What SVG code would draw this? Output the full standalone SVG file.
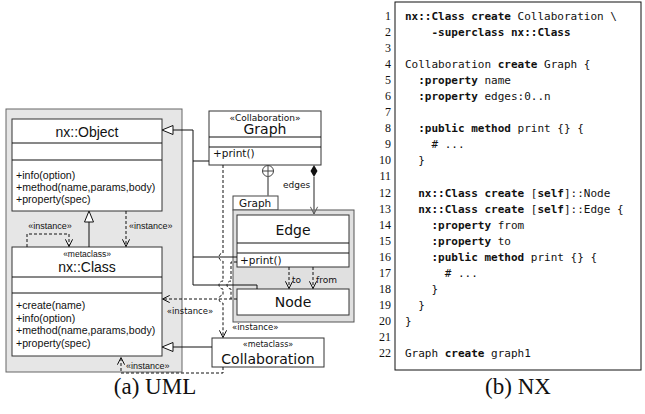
<svg xmlns="http://www.w3.org/2000/svg" width="645" height="414" viewBox="0 0 645 414">
<style>
.box{fill:#fff;stroke:#333;stroke-width:1}
.h{font-family:"Liberation Sans",Arial,sans-serif;fill:#111}
.d{font-family:"DejaVu Sans",sans-serif;fill:#111}
.ln{stroke:#111;stroke-width:1;fill:none}
.dash{stroke:#111;stroke-width:1;fill:none;stroke-dasharray:3 2}
.gray{stroke:#777;stroke-width:1.6;fill:none}
.tri{fill:#fff;stroke:#111;stroke-width:1}
.code{font-family:"DejaVu Sans Mono",monospace;font-size:11px;fill:#111}
.b{font-weight:bold}
.num{font-family:"Liberation Serif",serif;font-size:12px;text-anchor:end;fill:#111}
.cap{font-family:"Liberation Serif",serif;font-size:23px;text-anchor:middle;fill:#111}
.mid{text-anchor:middle}
</style>
<defs>
<marker id="open" viewBox="0 0 10 10" refX="9" refY="5" markerWidth="9" markerHeight="9" markerUnits="userSpaceOnUse" orient="auto"><path d="M1,1 L9,5 L1,9" fill="none" stroke="#111" stroke-width="1.1"/></marker>
<marker id="openg" viewBox="0 0 10 10" refX="9" refY="5" markerWidth="9" markerHeight="9" markerUnits="userSpaceOnUse" orient="auto"><path d="M1,1 L9,5 L1,9" fill="none" stroke="#555" stroke-width="1.1"/></marker>
</defs>

<!-- left panel background -->
<rect x="6" y="109" width="176" height="263" fill="#e6e6e6" stroke="#666" stroke-width="1"/>

<!-- Graph package -->
<g id="graph-package">
<rect x="233" y="196" width="45" height="14" fill="#fff" stroke="#444"/>
<text class="d" x="239" y="207" font-size="10.5">Graph</text>
<rect x="233" y="210" width="121" height="112" fill="#e0e0e0" stroke="#555"/>
</g>

<g id="nx-object">
<rect class="box" x="12" y="119" width="150" height="92"/>
<line class="ln" x1="12" y1="143" x2="162" y2="143" stroke="#333"/>
<line class="ln" x1="12" y1="160" x2="162" y2="160" stroke="#333"/>
<text class="h mid" x="87" y="137" font-size="14">nx::Object</text>
<text class="h" x="16" y="179" font-size="10.6">+info(option)</text>
<text class="h" x="16" y="191" font-size="10.6">+method(name,params,body)</text>
<text class="h" x="16" y="203" font-size="10.6">+property(spec)</text>
</g>

<g id="nx-class">
<rect class="box" x="12" y="247" width="150" height="109"/>
<line class="ln" x1="12" y1="277" x2="162" y2="277" stroke="#333"/>
<line class="ln" x1="12" y1="293" x2="162" y2="293" stroke="#333"/>
<text class="h mid" x="87" y="257" font-size="8.5">«metaclass»</text>
<text class="h mid" x="87" y="272" font-size="14">nx::Class</text>
<text class="h" x="16" y="309" font-size="10.6">+create(name)</text>
<text class="h" x="16" y="321.5" font-size="10.6">+info(option)</text>
<text class="h" x="16" y="334" font-size="10.6">+method(name,params,body)</text>
<text class="h" x="16" y="346.5" font-size="10.6">+property(spec)</text>
</g>

<g id="graph">
<rect class="box" x="209" y="111" width="112" height="54"/>
<line class="ln" x1="209" y1="137" x2="321" y2="137" stroke="#333"/>
<line class="ln" x1="209" y1="147" x2="321" y2="147" stroke="#333"/>
<text class="d mid" x="265" y="120.5" font-size="9">«Collaboration»</text>
<text class="d mid" x="265" y="134" font-size="14">Graph</text>
<text class="d" x="213" y="157" font-size="10.5">+print()</text>
</g>

<g id="edge">
<rect class="box" x="237" y="215" width="112" height="52" stroke-width="1.3"/>
<line class="ln" x1="237" y1="243" x2="349" y2="243" stroke="#333"/>
<line class="ln" x1="237" y1="253" x2="349" y2="253" stroke="#333"/>
<text class="d mid" x="293" y="235" font-size="14">Edge</text>
<text class="d" x="240" y="264" font-size="10.5">+print()</text>
</g>

<g id="node">
<rect class="box" x="237" y="289" width="112" height="26" stroke-width="1.3"/>
<text class="d mid" x="293" y="307" font-size="14">Node</text>
</g>

<g id="collaboration">
<rect class="box" x="212" y="338" width="112" height="29"/>
<text class="d mid" x="268" y="347" font-size="8">«metaclass»</text>
<text class="d mid" x="268" y="363.5" font-size="14">Collaboration</text>
</g>

<g id="connectors">
<!-- generalization to nx::Object -->
<path class="ln" d="M209,161 H193"/>
<path class="ln" d="M237,257 H193"/>
<path class="ln" d="M257,289 V285 H193 V130 H173"/>
<polygon class="tri" points="162,130 173,125.5 173,134.5"/>
<!-- generalization nx::Class -> nx::Object -->
<path class="ln" d="M89,247 V222"/>
<polygon class="tri" points="89,211 84.5,222 93.5,222"/>
<!-- Collaboration -> nx::Class generalization -->
<path class="ln" d="M212,347 H173"/>
<polygon class="tri" points="162,347 173,342.5 173,351.5"/>
<!-- instance self-loop nx::Class -->
<path class="dash" d="M27,247 V234 H69 V246.5" marker-end="url(#open)"/>
<text class="h mid" x="50" y="229" font-size="9">«instance»</text>
<!-- nx::Object instance of nx::Class -->
<path class="dash" d="M126,211 V246.5" marker-end="url(#open)"/>
<text class="h" x="129" y="229" font-size="9">«instance»</text>
<!-- Graph instance of Collaboration -->
<path class="dash" d="M223,165 V253 a4,4 0 0 0 0,8 V281 a4,4 0 0 0 0,8 V295 a4,4 0 0 0 0,8 V337.5" marker-end="url(#open)"/>
<text class="d" x="232" y="330" font-size="8.5">«instance»</text>
<!-- Edge / Node instance of nx::Class -->
<path class="dash" d="M237,262 H231 V281 a4,4 0 0 0 0,8 V299"/>
<path class="dash" d="M237,299 H162.5" marker-end="url(#open)"/>
<text class="d mid" x="190" y="314" font-size="8.5">«instance»</text>
<!-- Collaboration instance of nx::Class -->
<path class="dash" d="M223,367 V373 H121 V357.5" marker-end="url(#open)"/>
<text class="h" x="126" y="369" font-size="9">«instance»</text>
<!-- composition Graph -> Edge -->
<polygon points="314,165 317.5,171 314,177 310.5,171" fill="#111"/>
<path class="gray" d="M314,177 V214" marker-end="url(#openg)"/>
<text class="d" x="283" y="188" font-size="9">edges</text>
<!-- nesting -->
<circle cx="268" cy="171" r="5.5" fill="#fff" stroke="#444" stroke-width="1"/>
<path d="M262.5,171 H273.5 M268,165.5 V176.5" stroke="#444" stroke-width="1"/>
<path class="gray" d="M268,176.5 V196"/>
<!-- Edge -> Node associations -->
<path class="dash" d="M289,267 V288.5" marker-end="url(#open)"/>
<text class="d" x="292" y="283" font-size="9">to</text>
<path class="dash" d="M313,267 V288.5" marker-end="url(#open)"/>
<text class="d" x="316" y="283" font-size="9">from</text>
</g>

<!-- code listing -->
<g id="code-listing">
<rect x="395" y="2" width="246" height="368" fill="#fff" stroke="#111" stroke-width="1"/>
<text class="num" x="391" y="20">1</text>
<text class="num" x="391" y="36">2</text>
<text class="num" x="391" y="52">3</text>
<text class="num" x="391" y="68">4</text>
<text class="num" x="391" y="84">5</text>
<text class="num" x="391" y="100">6</text>
<text class="num" x="391" y="116">7</text>
<text class="num" x="391" y="132">8</text>
<text class="num" x="391" y="148">9</text>
<text class="num" x="391" y="164">10</text>
<text class="num" x="391" y="180">11</text>
<text class="num" x="391" y="197">12</text>
<text class="num" x="391" y="213">13</text>
<text class="num" x="391" y="229">14</text>
<text class="num" x="391" y="245">15</text>
<text class="num" x="391" y="261">16</text>
<text class="num" x="391" y="277">17</text>
<text class="num" x="391" y="293">18</text>
<text class="num" x="391" y="309">19</text>
<text class="num" x="391" y="325">20</text>
<text class="num" x="391" y="341">21</text>
<text class="num" x="391" y="357">22</text>
<text class="code" x="405" y="20" xml:space="preserve"><tspan class="b">nx::Class create</tspan> Collaboration \</text>
<text class="code" x="405" y="36" xml:space="preserve">    <tspan class="b">-superclass nx::Class</tspan></text>
<text class="code" x="405" y="68" xml:space="preserve">Collaboration <tspan class="b">create</tspan> Graph {</text>
<text class="code" x="405" y="84" xml:space="preserve">  <tspan class="b">:property</tspan> name</text>
<text class="code" x="405" y="100" xml:space="preserve">  <tspan class="b">:property</tspan> edges:0..n</text>
<text class="code" x="405" y="132" xml:space="preserve">  <tspan class="b">:public method</tspan> print {} {</text>
<text class="code" x="405" y="148" xml:space="preserve">    # ...</text>
<text class="code" x="405" y="164" xml:space="preserve">  }</text>
<text class="code" x="405" y="197" xml:space="preserve">  <tspan class="b">nx::Class create</tspan> [<tspan class="b">self</tspan>]::Node</text>
<text class="code" x="405" y="213" xml:space="preserve">  <tspan class="b">nx::Class create</tspan> [<tspan class="b">self</tspan>]::Edge {</text>
<text class="code" x="405" y="229" xml:space="preserve">    <tspan class="b">:property</tspan> from</text>
<text class="code" x="405" y="245" xml:space="preserve">    <tspan class="b">:property</tspan> to</text>
<text class="code" x="405" y="261" xml:space="preserve">    <tspan class="b">:public method</tspan> print {} {</text>
<text class="code" x="405" y="277" xml:space="preserve">      # ...</text>
<text class="code" x="405" y="293" xml:space="preserve">    }</text>
<text class="code" x="405" y="309" xml:space="preserve">  }</text>
<text class="code" x="405" y="325" xml:space="preserve">}</text>
<text class="code" x="405" y="357" xml:space="preserve">Graph <tspan class="b">create</tspan> graph1</text>
</g>

<text class="cap" x="155" y="394">(a) UML</text>
<text class="cap" x="518" y="394">(b) NX</text>
</svg>
